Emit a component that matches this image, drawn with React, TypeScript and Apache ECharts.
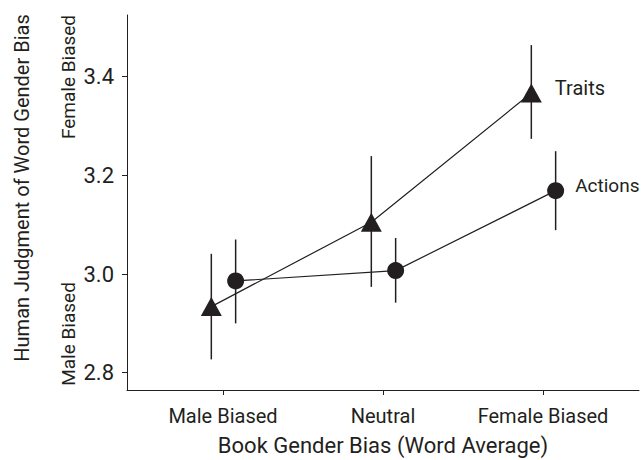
import React, { useEffect, useRef } from "react";
import * as echarts from "echarts";

const categories = ["Male Biased", "Neutral", "Female Biased"];
const traitsMean = [2.934, 3.105, 3.367];
const traitsLow = [2.827, 2.974, 3.274];
const traitsHigh = [3.041, 3.239, 3.464];
const actionsMean = [2.986, 3.007, 3.169];
const actionsLow = [2.9, 2.942, 3.089];
const actionsHigh = [3.07, 3.073, 3.249];
const yTicks = [2.8, 3.0, 3.2, 3.4];
const xTicks = [1, 2, 3];

const INK = "#231f20";
const FONT = "Roboto, 'Liberation Sans', sans-serif";
const OFF_T = -0.073;
const OFF_A = 0.079;

export default function App() {
  const ref = useRef<HTMLDivElement>(null);
  useEffect(() => {
    if (!ref.current) return;
    const chart = echarts.init(ref.current, null, { renderer: "svg" });

    const errItem = (params: any, api: any) => {
      const p1 = api.coord([api.value(0), api.value(1)]);
      const p2 = api.coord([api.value(0), api.value(2)]);
      return {
        type: "line",
        shape: { x1: p1[0], y1: p1[1], x2: p2[0], y2: p2[1] },
        style: { stroke: INK, lineWidth: 1.5 },
      };
    };

    const mk = (means: number[], off: number, name: string) =>
      means.map((v, i) =>
        i === means.length - 1
          ? {
              value: [xTicks[i] + off, v],
              label: {
                show: true,
                position: "right",
                distance: name === "Traits" ? 13 : 11,
                offset: [0, -5],
                formatter: name,
                fontSize: name === "Traits" ? 20 : 19,
                fontFamily: FONT,
                color: INK,
              },
            }
          : { value: [xTicks[i] + off, v] }
      );

    chart.setOption({
      animation: false,
      grid: { left: 127, right: 2, top: 15, bottom: 70, containLabel: false, outerBoundsMode: "none" },
      xAxis: {
        type: "value",
        min: 0.4,
        max: 3.6,
        splitLine: { show: false },
        axisLine: { show: true, onZero: false, lineStyle: { color: INK, width: 1 } },
        axisTick: { show: true, length: 5, customValues: xTicks, lineStyle: { color: INK } },
        axisLabel: {
          customValues: xTicks,
          formatter: (v: number) => categories[Math.round(v) - 1] ?? "",
          fontSize: 20,
          fontFamily: FONT,
          color: INK,
          margin: 16,
        },
        name: "Book Gender Bias (Word Average)",
        nameLocation: "middle",
        nameGap: 44,
        nameTextStyle: { fontSize: 22, fontFamily: FONT, color: INK },
      },
      yAxis: {
        type: "value",
        min: 2.765,
        max: 3.525,
        splitLine: { show: false },
        axisLine: { show: true, lineStyle: { color: INK, width: 1 } },
        axisTick: { show: true, length: 5, customValues: yTicks, lineStyle: { color: INK } },
        axisLabel: {
          customValues: yTicks,
          formatter: (v: number) => v.toFixed(1),
          fontSize: 22,
          fontFamily: FONT,
          color: INK,
          margin: 13,
        },
      },
      graphic: [
        {
          type: "text",
          x: 22,
          y: 188,
          rotation: Math.PI / 2,
          style: {
            text: "Human Judgment of Word Gender Bias",
            fontSize: 20,
            fontFamily: FONT,
            fill: INK,
            align: "center",
            verticalAlign: "middle",
          },
        },
        {
          type: "text",
          x: 68,
          y: 77,
          rotation: Math.PI / 2,
          style: {
            text: "Female Biased",
            fontSize: 19,
            fontFamily: FONT,
            fill: INK,
            align: "center",
            verticalAlign: "middle",
          },
        },
        {
          type: "text",
          x: 68,
          y: 334,
          rotation: Math.PI / 2,
          style: {
            text: "Male Biased",
            fontSize: 19,
            fontFamily: FONT,
            fill: INK,
            align: "center",
            verticalAlign: "middle",
          },
        },
      ],
      series: [
        {
          type: "custom",
          name: "Traits error",
          renderItem: errItem,
          data: traitsMean.map((_, i) => [xTicks[i] + OFF_T, traitsLow[i], traitsHigh[i]]),
          encode: { x: 0, y: [1, 2] },
          z: 1,
        },
        {
          type: "custom",
          name: "Actions error",
          renderItem: errItem,
          data: actionsMean.map((_, i) => [xTicks[i] + OFF_A, actionsLow[i], actionsHigh[i]]),
          encode: { x: 0, y: [1, 2] },
          z: 1,
        },
        {
          type: "line",
          name: "Traits",
          data: mk(traitsMean, OFF_T, "Traits"),
          symbol: "triangle",
          symbolSize: [21, 19],
          itemStyle: { color: INK },
          lineStyle: { color: INK, width: 1.2 },
          z: 3,
        },
        {
          type: "line",
          name: "Actions",
          data: mk(actionsMean, OFF_A, "Actions"),
          symbol: "circle",
          symbolSize: 17,
          itemStyle: { color: INK },
          lineStyle: { color: INK, width: 1.2 },
          z: 3,
        },
      ],
    });
    return () => chart.dispose();
  }, []);
  return (
    <div
      ref={ref}
      style={{ position: "fixed", left: 0, top: 0, width: 641, height: 460, background: "#fff" }}
    />
  );
}
